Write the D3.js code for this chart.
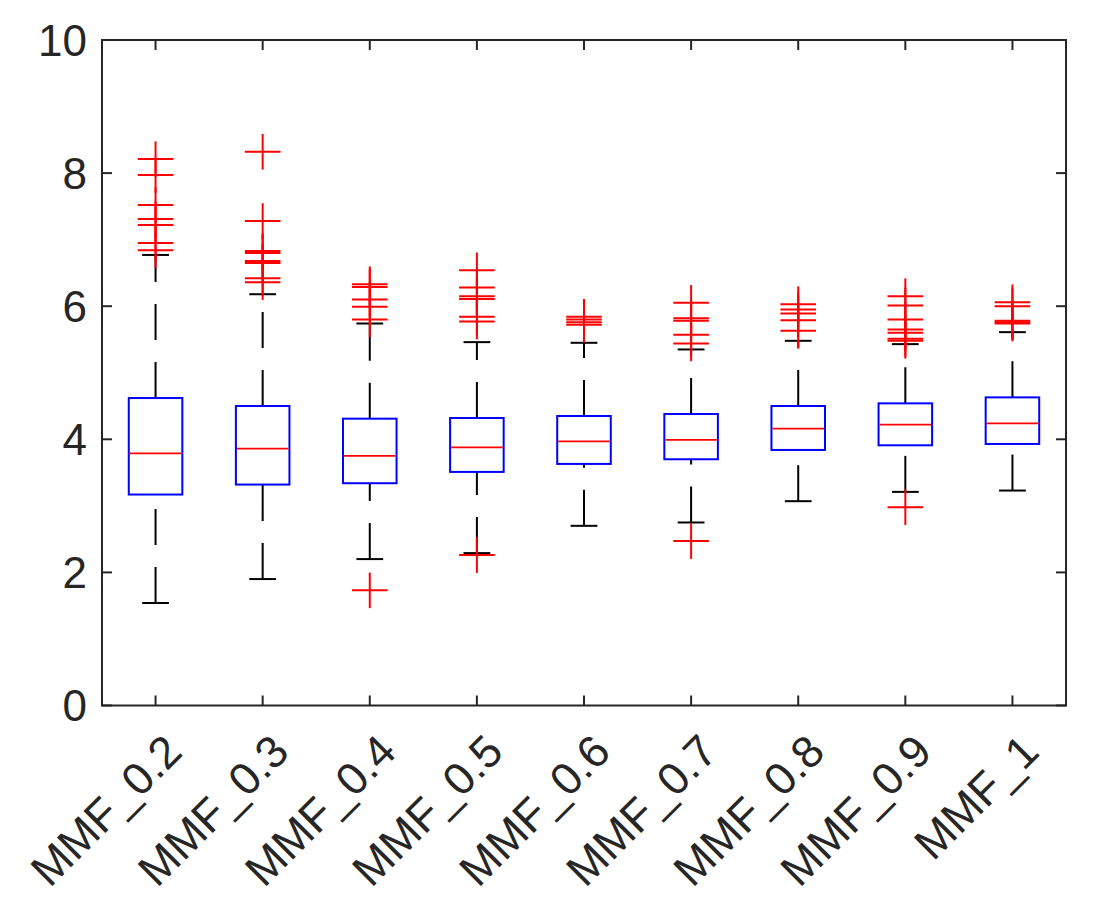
<!DOCTYPE html>
<html><head><meta charset="utf-8">
<script src="https://cdn.jsdelivr.net/npm/d3@7"></script>
<style>body{margin:0;background:#fff}svg{display:block}</style>
</head><body>
<svg id="chart" width="1113" height="900"></svg>
<script>
const categories = ["MMF_0.2","MMF_0.3","MMF_0.4","MMF_0.5","MMF_0.6","MMF_0.7","MMF_0.8","MMF_0.9","MMF_1"];
const q1 =      [3.17, 3.32, 3.34, 3.51, 3.63, 3.70, 3.84, 3.91, 3.93];
const median =  [3.79, 3.86, 3.75, 3.88, 3.97, 3.99, 4.16, 4.22, 4.24];
const q3 =      [4.62, 4.50, 4.31, 4.32, 4.35, 4.38, 4.50, 4.54, 4.63];
const whiskerLow =  [1.54, 1.90, 2.20, 2.29, 2.70, 2.75, 3.07, 3.21, 3.23];
const whiskerHigh = [6.77, 6.18, 5.74, 5.46, 5.45, 5.35, 5.48, 5.43, 5.61];
const outliers = [
  [8.21, 7.97, 7.52, 7.31, 7.22, 6.95, 6.84],
  [8.32, 7.28, 6.83, 6.80, 6.68, 6.65, 6.42, 6.36],
  [6.33, 6.29, 6.10, 5.99, 5.80, 1.73],
  [6.54, 6.28, 6.15, 6.11, 5.84, 5.77, 2.26],
  [5.84, 5.80, 5.76, 5.72],
  [6.05, 5.82, 5.78, 5.57, 5.44, 2.47],
  [6.03, 5.95, 5.89, 5.79, 5.63],
  [6.15, 6.01, 5.80, 5.65, 5.60, 5.51, 5.48, 2.98],
  [6.06, 6.00, 5.78, 5.76, 5.74]
];
const yTicks = [0, 2, 4, 6, 8, 10];

const svg = d3.select("#chart");
const L = 102, R = 1066, T = 40, B = 705.5;
const axisColor = "#262626";

const x = d3.scaleLinear().domain([0.5, categories.length + 0.5]).range([L, R]);
const y = d3.scaleLinear().domain([0, 10]).range([B, T]);
const unit = x(2) - x(1);
const boxW = unit * 0.5, capW = unit * 0.25, plusH = 17.8;

const data = categories.map((c, i) => ({
  c, i: i + 1, q1: q1[i], med: median[i], q3: q3[i],
  lo: whiskerLow[i], hi: whiskerHigh[i], out: outliers[i]
}));

const g = svg.append("g");
const boxes = g.selectAll("g.box").data(data).join("g").attr("class", "box");

// whiskers (dashed), drawn bottom to top
boxes.append("line")
  .attr("x1", d => x(d.i)).attr("x2", d => x(d.i))
  .attr("y1", d => y(d.lo)).attr("y2", d => y(d.q1))
  .attr("stroke", "#000").attr("stroke-width", 2).attr("stroke-dasharray", "36 22");
boxes.append("line")
  .attr("x1", d => x(d.i)).attr("x2", d => x(d.i))
  .attr("y1", d => y(d.q3)).attr("y2", d => y(d.hi))
  .attr("stroke", "#000").attr("stroke-width", 2).attr("stroke-dasharray", "36 22");
// caps
["lo", "hi"].forEach(k => {
  boxes.append("line")
    .attr("x1", d => x(d.i) - capW / 2).attr("x2", d => x(d.i) + capW / 2)
    .attr("y1", d => y(d[k])).attr("y2", d => y(d[k]))
    .attr("stroke", "#000").attr("stroke-width", 2);
});
// boxes
boxes.append("rect")
  .attr("x", d => x(d.i) - boxW / 2).attr("width", boxW)
  .attr("y", d => y(d.q3)).attr("height", d => y(d.q1) - y(d.q3))
  .attr("fill", "none").attr("stroke", "#0000ff").attr("stroke-width", 2);
// medians
boxes.append("line")
  .attr("x1", d => x(d.i) - boxW / 2 + 1).attr("x2", d => x(d.i) + boxW / 2 - 1)
  .attr("y1", d => y(d.med)).attr("y2", d => y(d.med))
  .attr("stroke", "#ff0000").attr("stroke-width", 1.8);
// outliers
const pts = boxes.selectAll("g.out").data(d => d.out.map(v => ({ i: d.i, v }))).join("g").attr("class", "out");
pts.append("line")
  .attr("x1", d => x(d.i) - plusH).attr("x2", d => x(d.i) + plusH)
  .attr("y1", d => y(d.v)).attr("y2", d => y(d.v))
  .attr("stroke", "#ff0000").attr("stroke-width", 2);
pts.append("line")
  .attr("x1", d => x(d.i)).attr("x2", d => x(d.i))
  .attr("y1", d => y(d.v) - plusH).attr("y2", d => y(d.v) + plusH)
  .attr("stroke", "#ff0000").attr("stroke-width", 2);

// axes frame with inward ticks
const tickLen = 10;
const ax = svg.append("g").attr("stroke", axisColor).attr("stroke-width", 2).attr("fill", "none");
ax.append("rect").attr("x", L).attr("y", T).attr("width", R - L).attr("height", B - T);
yTicks.forEach(t => {
  ax.append("line").attr("x1", L).attr("x2", L + tickLen).attr("y1", y(t)).attr("y2", y(t));
  ax.append("line").attr("x1", R).attr("x2", R - tickLen).attr("y1", y(t)).attr("y2", y(t));
});
data.forEach(d => {
  ax.append("line").attr("x1", x(d.i)).attr("x2", x(d.i)).attr("y1", B).attr("y2", B - tickLen);
  ax.append("line").attr("x1", x(d.i)).attr("x2", x(d.i)).attr("y1", T).attr("y2", T + tickLen);
});

// tick labels
const font = "'Liberation Sans', Arial, Helvetica, sans-serif";
svg.append("g").selectAll("text").data(yTicks).join("text")
  .attr("x", L - 15).attr("y", d => y(d)).attr("dy", "0.36em")
  .attr("text-anchor", "end").attr("font-family", font).attr("font-size", 44)
  .attr("fill", axisColor).text(d => d);

svg.append("g").selectAll("text").data(data).join("text")
  .attr("transform", d => `translate(${x(d.i)},${B + 20}) rotate(-45)`)
  .attr("dy", "0.9em")
  .attr("text-anchor", "end").attr("font-family", font).attr("font-size", 45)
  .attr("fill", axisColor).text(d => d.c);
</script>
</body></html>
